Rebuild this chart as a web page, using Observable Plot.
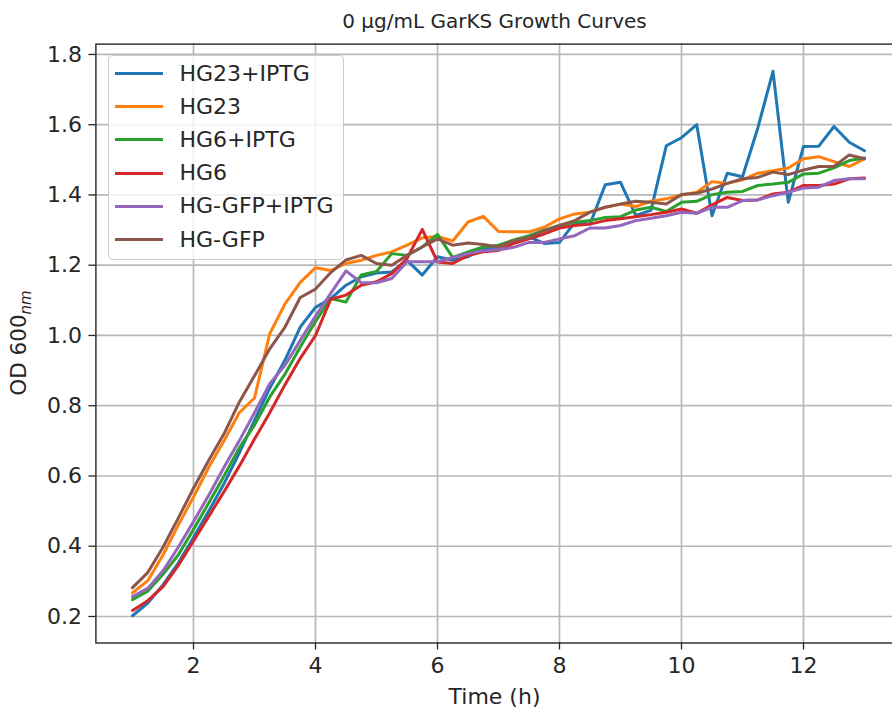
<!DOCTYPE html>
<html>
<head>
<meta charset="utf-8">
<script src="https://cdn.jsdelivr.net/npm/d3@7"></script>
<script src="https://cdn.jsdelivr.net/npm/@observablehq/plot@0.6"></script>
<style>
  body { margin: 0; background: #fff; }
  #wrap { position: relative; width: 892px; height: 716px; overflow: hidden; font-family: "DejaVu Sans", sans-serif; color: #262626; }
  #ylab { position: absolute; left: 20px; top: 343px; transform: translate(-50%, -50%) rotate(-90deg); white-space: nowrap; font-size: 21.5px; }
  #ylab sub { font-size: 15px; font-style: italic; vertical-align: -5px; }
  #legend { position: absolute; left: 107.5px; top: 54.5px; width: 234px; height: 203px; border: 1px solid #cccccc; border-radius: 5px; background: rgba(255,255,255,0.8); }
  .entry { position: absolute; left: 0; height: 30px; font-size: 22px; line-height: 30px; white-space: nowrap; }
  .swatch { position: absolute; left: 6px; top: 13.5px; width: 48px; height: 3px; }
  .name { position: absolute; left: 71px; top: 0; }
</style>
</head>
<body>
<div id="wrap"></div>
<script>
// Sampling times (hours) and OD600 readings for each strain
const hours = [1, 1.25, 1.5, 1.75, 2, 2.25, 2.5, 2.75, 3, 3.25, 3.5, 3.75, 4, 4.25, 4.5, 4.75,
  5, 5.25, 5.5, 5.75, 6, 6.25, 6.5, 6.75, 7, 7.25, 7.5, 7.75, 8, 8.25, 8.5, 8.75,
  9, 9.25, 9.5, 9.75, 10, 10.25, 10.5, 10.75, 11, 11.25, 11.5, 11.75, 12, 12.25, 12.5, 12.75, 13];

const hg23Iptg = [0.202, 0.238, 0.29, 0.352, 0.425, 0.50, 0.578, 0.665, 0.758, 0.85, 0.93, 1.024, 1.08, 1.105, 1.143, 1.167,
  1.178, 1.181, 1.214, 1.172, 1.224, 1.214, 1.224, 1.247, 1.252, 1.27, 1.281, 1.262, 1.265, 1.322, 1.317, 1.429,
  1.436, 1.342, 1.356, 1.540, 1.563, 1.600, 1.341, 1.462, 1.452, 1.590, 1.752, 1.379, 1.538, 1.539, 1.595, 1.550, 1.526];

const hg23 = [0.267, 0.302, 0.375, 0.46, 0.54, 0.625, 0.70, 0.78, 0.822, 1.005, 1.09, 1.151, 1.193, 1.185, 1.205, 1.214,
  1.228, 1.238, 1.257, 1.278, 1.282, 1.269, 1.323, 1.339, 1.296, 1.295, 1.295, 1.308, 1.332, 1.346, 1.351, 1.365,
  1.374, 1.367, 1.382, 1.389, 1.400, 1.408, 1.438, 1.433, 1.443, 1.462, 1.469, 1.477, 1.503, 1.509, 1.495, 1.481, 1.503];

const hg6Iptg = [0.248, 0.272, 0.32, 0.375, 0.448, 0.523, 0.60, 0.68, 0.745, 0.825, 0.89, 0.967, 1.04, 1.105, 1.095, 1.172,
  1.182, 1.233, 1.228, 1.252, 1.288, 1.222, 1.238, 1.252, 1.257, 1.272, 1.284, 1.300, 1.313, 1.322, 1.327, 1.336,
  1.338, 1.357, 1.365, 1.353, 1.379, 1.382, 1.401, 1.408, 1.410, 1.427, 1.431, 1.436, 1.460, 1.462, 1.477, 1.498, 1.505];

const hg6 = [0.217, 0.245, 0.285, 0.345, 0.415, 0.485, 0.555, 0.628, 0.705, 0.78, 0.86, 0.935, 1.0, 1.103, 1.115, 1.143,
  1.153, 1.176, 1.219, 1.302, 1.209, 1.205, 1.228, 1.238, 1.242, 1.262, 1.275, 1.289, 1.306, 1.313, 1.317, 1.327,
  1.332, 1.338, 1.344, 1.351, 1.360, 1.348, 1.372, 1.393, 1.384, 1.386, 1.403, 1.408, 1.427, 1.427, 1.431, 1.446, 1.448];

const hgGfpIptg = [0.257, 0.28, 0.33, 0.397, 0.47, 0.545, 0.625, 0.70, 0.78, 0.863, 0.915, 0.986, 1.055, 1.12, 1.184, 1.150,
  1.150, 1.162, 1.210, 1.210, 1.210, 1.222, 1.233, 1.241, 1.244, 1.251, 1.265, 1.265, 1.275, 1.284, 1.306, 1.306,
  1.313, 1.327, 1.334, 1.341, 1.351, 1.348, 1.365, 1.365, 1.384, 1.386, 1.398, 1.408, 1.420, 1.422, 1.441, 1.446, 1.446];

const hgGfp = [0.282, 0.325, 0.397, 0.48, 0.565, 0.645, 0.72, 0.81, 0.885, 0.962, 1.024, 1.108, 1.132, 1.179, 1.215, 1.228,
  1.205, 1.200, 1.228, 1.252, 1.275, 1.257, 1.263, 1.259, 1.252, 1.270, 1.279, 1.298, 1.313, 1.327, 1.351, 1.365,
  1.374, 1.382, 1.379, 1.374, 1.401, 1.405, 1.417, 1.433, 1.446, 1.450, 1.465, 1.458, 1.471, 1.481, 1.481, 1.514, 1.503];

const seriesNames = ["HG23+IPTG", "HG23", "HG6+IPTG", "HG6", "HG-GFP+IPTG", "HG-GFP"];
const seriesValues = [hg23Iptg, hg23, hg6Iptg, hg6, hgGfpIptg, hgGfp];
const seriesColors = ["#1f77b4", "#ff7f0e", "#2ca02c", "#d62728", "#9467bd", "#8c564b"];

const xTicks = [2, 4, 6, 8, 10, 12];
const yTicks = [0.2, 0.4, 0.6, 0.8, 1.0, 1.2, 1.4, 1.6, 1.8];

const titleText = "0 µg/mL GarKS Growth Curves";
const xLabel = "Time (h)";

// Long-format rows for the line mark
const rows = seriesNames.flatMap((name, s) =>
  hours.map((t, i) => ({series: name, t, od: seriesValues[s][i]})));

const ink = "#262626";

const chart = Plot.plot({
  width: 892,
  height: 716,
  marginLeft: 95.4,
  marginRight: -8.6,
  marginTop: 43.6,
  marginBottom: 73.5,
  style: {fontFamily: "DejaVu Sans, sans-serif", fontSize: "22px", color: ink, background: "white"},
  x: {domain: [0.4, 13.6]},
  y: {domain: [0.1245, 1.8295]},
  color: {domain: seriesNames, range: seriesColors},
  marks: [
    Plot.gridX(xTicks, {stroke: "#b8b8b8", strokeOpacity: 1, strokeWidth: 1.7}),
    Plot.gridY(yTicks, {stroke: "#b8b8b8", strokeOpacity: 1, strokeWidth: 1.7}),
    Plot.line(rows, {x: "t", y: "od", z: "series", stroke: "series", strokeWidth: 3, strokeLinejoin: "round"}),
    Plot.frame({stroke: ink, strokeWidth: 1.4}),
    Plot.axisX(xTicks, {tickSize: 7, tickPadding: 7, label: null, fontSize: 22, stroke: ink, strokeWidth: 1.3}),
    Plot.axisY(yTicks, {tickSize: 7, tickPadding: 7, label: null, fontSize: 22, stroke: ink, strokeWidth: 1.3,
      tickFormat: d3.format(".1f")}),
    Plot.text([titleText], {frameAnchor: "top", dy: -30, fontSize: 20, fill: ink, text: d => d, dx: -4}),
    Plot.text([xLabel], {frameAnchor: "bottom", dy: 61, fontSize: 22, fill: ink, text: d => d, dx: -4})
  ]
});

const wrap = document.getElementById("wrap");
wrap.appendChild(chart);

// Y-axis label with subscript unit
const ylab = document.createElement("div");
ylab.id = "ylab";
ylab.innerHTML = "OD 600<sub>nm</sub>";
wrap.appendChild(ylab);

// Legend box drawn over the plot area
const legend = document.createElement("div");
legend.id = "legend";
seriesNames.forEach((name, i) => {
  const entry = document.createElement("div");
  entry.className = "entry";
  entry.style.top = (3 + i * 33.2) + "px";
  const sw = document.createElement("div");
  sw.className = "swatch";
  sw.style.background = seriesColors[i];
  const label = document.createElement("div");
  label.className = "name";
  label.textContent = name;
  entry.appendChild(sw);
  entry.appendChild(label);
  legend.appendChild(entry);
});
wrap.appendChild(legend);
</script>
</body>
</html>
